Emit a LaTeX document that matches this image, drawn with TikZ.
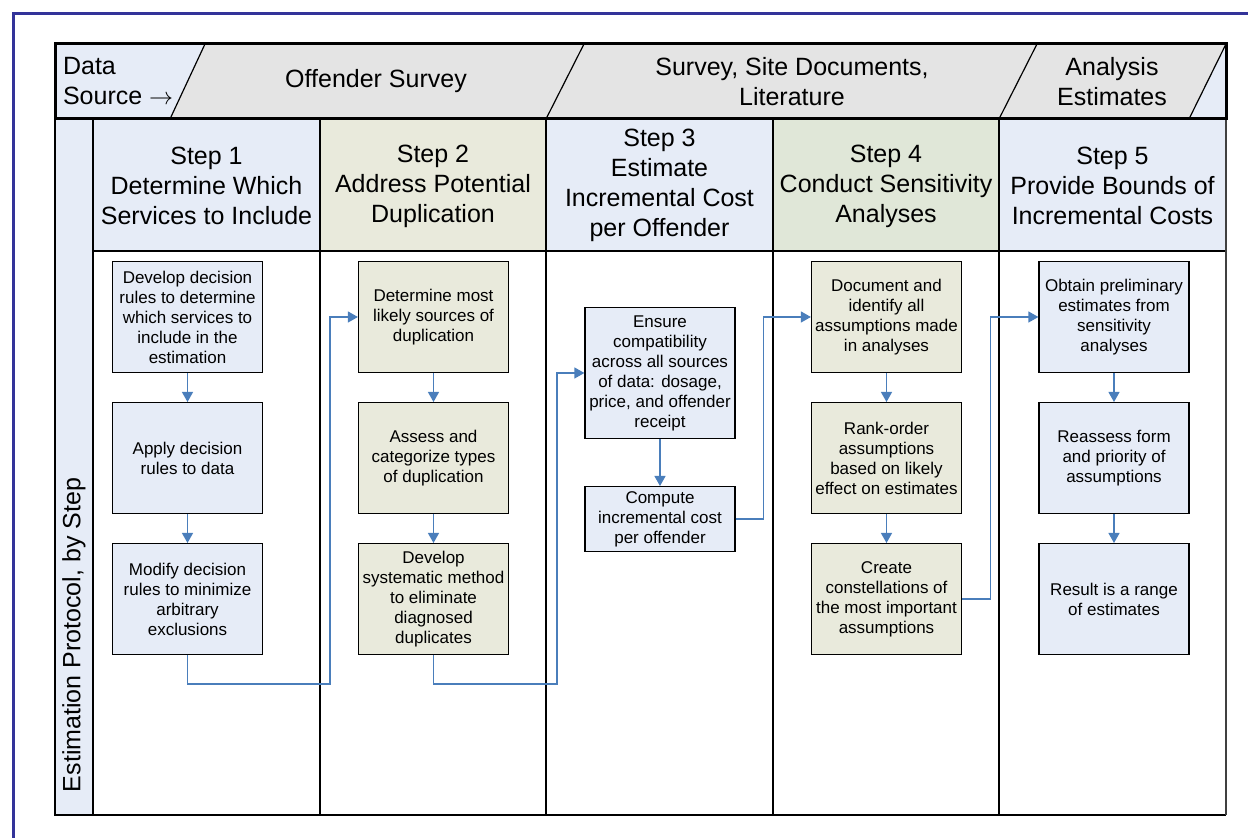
\documentclass[tikz,border=0pt]{standalone}
\usepackage{fontspec}
\setmainfont{Liberation Sans}
\usepackage{tikz}
\usetikzlibrary{arrows.meta}
\usetikzlibrary{positioning}
\definecolor{paleblue}{HTML}{E6ECF7}
\definecolor{paleolive}{HTML}{E9EADC}
\definecolor{palegreen}{HTML}{E0E7D8}
\definecolor{bandgray}{HTML}{E4E4E4}
\definecolor{flowblue}{HTML}{4A7EBB}
\definecolor{framenavy}{HTML}{333399}
\tikzset{task/.style = {draw=black, line width=0.6pt, minimum width=75pt,
                        minimum height=55.4pt, inner sep=1pt, align=center,
                        font=\fontsize{8.5}{10}\selectfont},
         flow/.style = {draw=flowblue, line width=0.6pt,
                        -{Triangle[length=5pt,width=5.5pt]}},
         hdr/.style  = {align=center, font=\fontsize{12.5}{15}\selectfont}}

\begin{document}
\begin{tikzpicture}[x=0.5pt, y=-0.5pt, node distance=14.5pt]
      \useasboundingbox (0,0) rectangle (1248,838);
      \draw [framenavy, line width=1.6pt] (13.5,845) -- (13.5,13.5) -- (1255,13.5);

      % data source band
      \fill [bandgray] (55,44) rectangle (1226,119);
      \fill [paleblue] (55,44) -- (205,44) -- (170,119) -- (55,119) -- cycle;
      \fill [paleblue] (1189,119) -- (1226,44) -- (1226,119) -- cycle;
      \draw [line width=0.6pt] (205,44) -- (170,119) (584,44) -- (546,119)
            (1037,44) -- (999,119) (1226,44) -- (1189,119);

      % step table
      \fill [paleblue] (55,119) rectangle (93,815);
      \fill [paleblue] (93,119) rectangle (320,251);
      \fill [paleolive] (320,119) rectangle (546,251);
      \fill [paleblue] (546,119) rectangle (773,251);
      \fill [palegreen] (773,119) rectangle (999,251);
      \fill [paleblue] (999,119) rectangle (1226,251);
      \draw [line width=0.7pt] (93,119) -- (93,815) (320,119) -- (320,815)
            (546,119) -- (546,815) (773,119) -- (773,815) (999,119) -- (999,815)
            (93,251) -- (1226,251) (55,119) -- (55,815) -- (1226,815);
      \draw [line width=1.2pt, black!75] (1226,119) -- (1226,815.5);
      \draw [line width=1.5pt] (55,44) rectangle (1226,119);

      \node [hdr, anchor=west, align=left] (src) at (56,81.5) {Data\\Source $\rightarrow$};
      \node [hdr] (survey) at (376,81.5) {Offender Survey};
      \node [hdr] (docs) at (792,81.5) {Survey, Site Documents,\\Literature};
      \node [hdr] (estimates) at (1112,81.5) {Analysis\\Estimates};
      \node [hdr, rotate=90] (protocol) at (74,635) {Estimation Protocol, by Step};

      \node [hdr] (step1) at (206.5,186) {Step 1\\Determine Which\\Services to Include};
      \node [hdr] (step2) at (433,186) {Step 2\\Address Potential\\Duplication};
      \node [hdr] (step3) at (659.5,185) {Step 3\\Estimate\\Incremental Cost\\per Offender};
      \node [hdr] (step4) at (886,186) {Step 4\\Conduct Sensitivity\\Analyses};
      \node [hdr] (step5) at (1112.5,186) {Step 5\\Provide Bounds of\\Incremental Costs};

      % step 1
      \node [task, fill=paleblue] (rules) at (187.5,317) {Develop decision\\rules to determine\\which services to\\include in the\\estimation};
      \node [task, fill=paleblue, below=of rules] (apply) {Apply decision\\rules to data};
      \node [task, fill=paleblue, below=of apply] (modify) {Modify decision\\rules to minimize\\arbitrary\\exclusions};
      % step 2
      \node [task, fill=paleolive] (likely) at (433.5,317) {Determine most\\likely sources of\\duplication};
      \node [task, fill=paleolive, below=of likely] (categorize) {Assess and\\categorize types\\of duplication};
      \node [task, fill=paleolive, below=of categorize] (method) {Develop\\systematic method\\to eliminate\\diagnosed\\duplicates};
      % step 3
      \node [task, fill=paleblue, minimum height=65.4pt] (ensure) at (660,373) {Ensure\\compatibility\\across all sources\\of data: dosage,\\price, and offender\\receipt};
      \node [task, fill=paleblue, minimum height=32.4pt, below=23.5pt of ensure] (compute) {Compute\\incremental cost\\per offender};
      % step 4
      \node [task, fill=paleolive] (document) at (886.5,317) {Document and\\identify all\\assumptions made\\in analyses};
      \node [task, fill=paleolive, below=of document] (rank) {Rank-order\\assumptions\\based on likely\\effect on estimates};
      \node [task, fill=paleolive, below=of rank] (constellations) {Create\\constellations of\\the most important\\assumptions};
      % step 5
      \node [task, fill=paleblue] (obtain) at (1114,317) {Obtain preliminary\\estimates from\\sensitivity\\analyses};
      \node [task, fill=paleblue, below=of obtain] (reassess) {Reassess form\\and priority of\\assumptions};
      \node [task, fill=paleblue, below=of reassess] (range) {Result is a range\\of estimates};

      \draw [flow] (rules) -- (apply);
      \draw [flow] (apply) -- (modify);
      \draw [flow] (likely) -- (categorize);
      \draw [flow] (categorize) -- (method);
      \draw [flow] (ensure) -- (compute);
      \draw [flow] (document) -- (rank);
      \draw [flow] (rank) -- (constellations);
      \draw [flow] (obtain) -- (reassess);
      \draw [flow] (reassess) -- (range);

      \draw [flow] (modify.south) -- ++(0,-14.5pt) -- ++(71.25pt,0) |- (likely.west);
      \draw [flow] (method.south) -- ++(0,-14.5pt) -- ++(61.75pt,0) |- (ensure.west);
      \draw [flow] (compute.east) -- ++(14pt,0) |- (document.west);
      \draw [flow] (constellations.east) -- ++(14pt,0) |- (obtain.west);
\end{tikzpicture}
\end{document}
